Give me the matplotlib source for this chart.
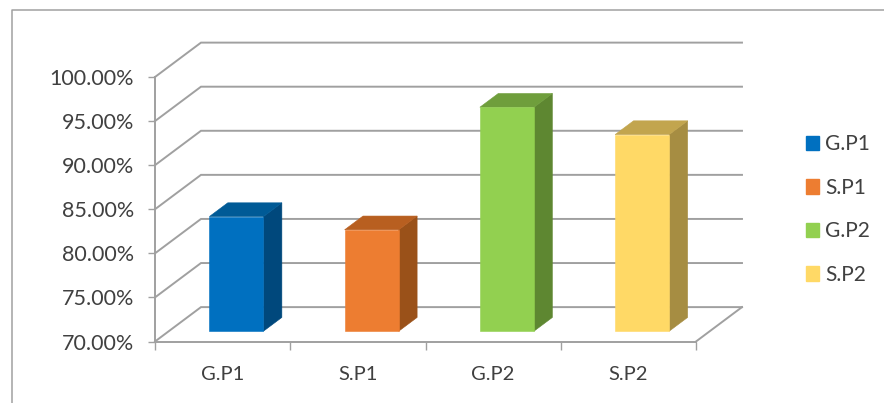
import matplotlib
matplotlib.use("Agg")
import matplotlib.pyplot as plt
from matplotlib.lines import Line2D
from matplotlib.patches import Patch, Polygon

plt.rcParams["font.family"] = ["Lato", "DejaVu Sans"]

categories = ["G.P1", "S.P1", "G.P2", "S.P2"]
values = [83.0, 81.5, 95.4, 92.3]
y_ticks = [70, 75, 80, 85, 90, 95, 100]

front_colors = ["#0070C0", "#ED7D31", "#92D050", "#FFD966"]
top_colors = ["#005A96", "#B85F20", "#6F9E3C", "#C2A54E"]
side_colors = ["#00487C", "#9A5119", "#5E8731", "#A68D42"]

GRID = "#A0A0A0"
TEXT = "#404040"
W, H = 884, 403

# oblique projection: depth 0 is the front of the floor, depth 1 the back wall
DX = 0.34
DY = 3.9


def project(x, y, depth):
    return x + DX * depth, y + DY * depth


def draw_bar(ax, i, value):
    x0, x1 = i + 0.3, i + 0.7
    d0, d1 = 0.3, 0.7
    base = y_ticks[0]
    front = [project(x0, base, d0), project(x1, base, d0),
             project(x1, value, d0), project(x0, value, d0)]
    side = [project(x1, base, d0), project(x1, base, d1),
            project(x1, value, d1), project(x1, value, d0)]
    top = [project(x0, value, d0), project(x1, value, d0),
           project(x1, value, d1), project(x0, value, d1)]
    for pts, color in [(side, side_colors[i]), (top, top_colors[i]), (front, front_colors[i])]:
        ax.add_patch(Polygon(pts, closed=True, facecolor=color, edgecolor=color,
                             linewidth=0.4, zorder=3, clip_on=False))


fig = plt.figure(figsize=(W / 100, H / 100), dpi=100)
ax = fig.add_axes([155 / W, 1 - 341.5 / H, 541 / W, 264.5 / H])
ax.set_xlim(0, len(categories))
ax.set_ylim(y_ticks[0], y_ticks[-1])
ax.patch.set_alpha(0)

# back wall gridlines and their diagonals on the side wall
for v in y_ticks:
    bx, by = project(0, v, 1)
    ex, ey = project(len(categories), v, 1)
    ax.plot([0, bx, ex], [v, by, ey], color=GRID, lw=1.4, clip_on=False, zorder=1,
            solid_joinstyle="miter")

# right edge of the floor
fx, fy = project(len(categories), y_ticks[0], 1)
ax.plot([len(categories), fx], [y_ticks[0], fy], color=GRID, lw=1.4, clip_on=False, zorder=1)

for i, value in enumerate(values):
    draw_bar(ax, i, value)

for name in ["top", "right"]:
    ax.spines[name].set_visible(False)
for name in ["left", "bottom"]:
    ax.spines[name].set_color(GRID)
    ax.spines[name].set_linewidth(1.4)

ax.set_yticks(y_ticks)
ax.set_yticklabels([f"{v:.2f}%" for v in y_ticks], fontsize=15.5, color=TEXT)
ax.tick_params(axis="y", length=5, width=1, color=GRID, pad=10)

ax.set_xticks(range(len(categories) + 1))
ax.set_xticklabels([])
ax.tick_params(axis="x", which="major", length=6, width=1, color=GRID)
ax.set_xticks([i + 0.5 for i in range(len(categories))], minor=True)
ax.set_xticklabels(categories, minor=True, fontsize=14.5, color=TEXT)
ax.tick_params(axis="x", which="minor", length=0, pad=18)

handles = [Patch(facecolor=c, edgecolor=c, label=n) for c, n in zip(front_colors, categories)]
fig.legend(handles=handles, loc="center left", bbox_to_anchor=(805.5 / W, 1 - 209.5 / H),
           frameon=False, fontsize=15, labelcolor=TEXT, handlelength=0.67, handleheight=0.67,
           handletextpad=0.29, labelspacing=1.13, borderpad=0, borderaxespad=0)

# outer chart frame, cut off by the picture on the right and bottom
fig.add_artist(Line2D([11.5 / W, 11.5 / W, 1], [0, 1 - 9.5 / H, 1 - 9.5 / H],
                      color=GRID, lw=1.1, transform=fig.transFigure))

fig.savefig("out.png", dpi=100)
plt.close(fig)
